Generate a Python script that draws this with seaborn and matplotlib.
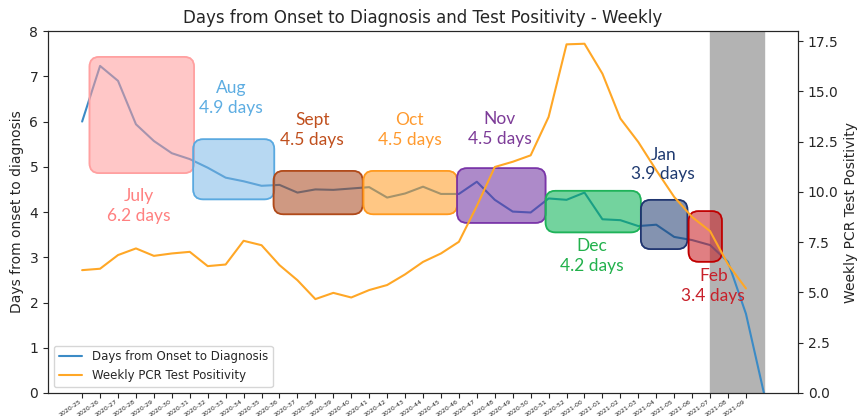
import numpy as np
import pandas as pd
import matplotlib
matplotlib.use('Agg')
import matplotlib.pyplot as plt
import seaborn as sns
from matplotlib.patches import FancyBboxPatch
from matplotlib.lines import Line2D

# weekly data
week_labels = ([f'2020-{w}' for w in range(25, 53)] +
               [f'2021-{w:02d}' for w in range(0, 10)])

onset_days = [6.0, 7.23, 6.9, 5.94, 5.57, 5.30, 5.17, 4.98, 4.76, 4.68,
              4.58, 4.60, 4.43, 4.50, 4.49, 4.52, 4.55, 4.32, 4.41, 4.56,
              4.40, 4.40, 4.67, 4.27, 4.01, 3.99, 4.30, 4.27, 4.43, 3.84,
              3.82, 3.69, 3.72, 3.45, 3.38, 3.27, 2.90, 1.75, 0.0]

positivity = [6.11, 6.18, 6.86, 7.19, 6.82, 6.94, 7.02, 6.31, 6.39, 7.57,
              7.35, 6.36, 5.61, 4.67, 4.98, 4.75, 5.12, 5.37, 5.90, 6.52,
              6.94, 7.52, 9.30, 11.24, 11.50, 11.82, 13.73, 17.34, 17.37, 15.88,
              13.65, 12.48, 11.08, 9.75, 8.75, 8.05, 6.40, 5.20]

months = ['July', 'Aug', 'Sept', 'Oct', 'Nov', 'Dec', 'Jan', 'Feb']
month_avg = [6.2, 4.9, 4.5, 4.5, 4.5, 4.2, 3.9, 3.4]

# box extents (x0, x1, y0, y1) and label anchors
box_x = [(0.41, 6.24), (6.19, 10.71), (10.67, 15.64), (15.68, 20.9),
         (20.9, 25.83), (25.83, 31.14), (31.14, 33.74), (33.8, 35.66)]
box_y = [(4.86, 7.43), (4.28, 5.61), (3.95, 4.91), (3.95, 4.91),
         (3.76, 4.97), (3.55, 4.47), (3.18, 4.27), (2.90, 4.02)]
label_xy = [(3.17, 4.13), (8.3, 6.53), (12.83, 5.81), (18.25, 5.81),
            (23.28, 5.83), (28.42, 3.03), (32.39, 5.05), (35.18, 2.36)]
face_cols = ['#ff9a9a', '#7db9e8', '#a8461c', '#ff9a1f',
             '#6b2a9e', '#00b04f', '#1f3b70', '#c8171c']
edge_cols = ['#ffa0a0', '#5aa9e0', '#b04a1a', '#ff9a1f',
             '#7a35a8', '#1fb35a', '#1f3570', '#c00000']
text_cols = ['#ff8080', '#5dade2', '#c0501e', '#ff9a2e',
             '#7d3c98', '#22b14c', '#1f3a70', '#c8202a']

df1 = pd.DataFrame({'x': np.arange(len(onset_days)), 'days': onset_days})
df2 = pd.DataFrame({'x': np.arange(len(positivity)), 'pos': positivity})

sns.set_style('ticks')
fig = plt.figure(figsize=(8.64, 4.16), dpi=100)
ax = fig.add_axes([0.0556, 0.0553, 0.868, 0.870])
ax2 = ax.twinx()

sns.lineplot(data=df1, x='x', y='days', ax=ax, color='#3b8bc6', lw=1.5)
sns.lineplot(data=df2, x='x', y='pos', ax=ax2, color='#ffa726', lw=1.5)

ax.set_xlim(-1.9, 39.9)
ax.set_ylim(0, 8)
ax2.set_ylim(0, 18)
ax.axvspan(35, 38, color='#b3b3b3', zorder=0)

# month boxes drawn in left-axis coordinates on top of both lines
asp = 17.9 / 45.25
for i in range(len(months)):
    x0, x1 = box_x[i]
    y0, y1 = box_y[i]
    p = FancyBboxPatch((x0, y0), x1 - x0, y1 - y0,
                       boxstyle='round,pad=0,rounding_size=0.55',
                       mutation_aspect=asp, transform=ax.transData,
                       facecolor=face_cols[i], edgecolor=edge_cols[i],
                       alpha=0.55, lw=1.2)
    ax2.add_patch(p)
    p2 = FancyBboxPatch((x0, y0), x1 - x0, y1 - y0,
                        boxstyle='round,pad=0,rounding_size=0.55',
                        mutation_aspect=asp, transform=ax.transData,
                        facecolor='none', edgecolor=edge_cols[i], lw=1.2)
    ax2.add_patch(p2)
    lx, ly = label_xy[i]
    ax2.text(lx, ly, f'{months[i]}\n{month_avg[i]} days', transform=ax.transData,
             ha='center', va='center', color=text_cols[i], fontsize=12.5,
             family='Lato', linespacing=1.3)

ax.set_xticks(range(len(week_labels)))
ax.set_xticklabels(week_labels, rotation=35, ha='right', fontsize=4.5)
ax.tick_params(axis='x', pad=1)
ax.set_xlabel('')
ax.set_ylabel('Days from onset to diagnosis', fontsize=10)
ax2.set_ylabel('Weekly PCR Test Positivity', fontsize=10)
ax2.set_yticks([0, 2.5, 5, 7.5, 10, 12.5, 15, 17.5])
ax.set_title('Days from Onset to Diagnosis and Test Positivity - Weekly', fontsize=12)

handles = [Line2D([], [], color='#3b8bc6', lw=1.5), Line2D([], [], color='#ffa726', lw=1.5)]
ax2.legend(handles, ['Days from Onset to Diagnosis', 'Weekly PCR Test Positivity'],
           loc='lower left', fontsize=8.5, frameon=True)

fig.savefig('out.png', dpi=100)
